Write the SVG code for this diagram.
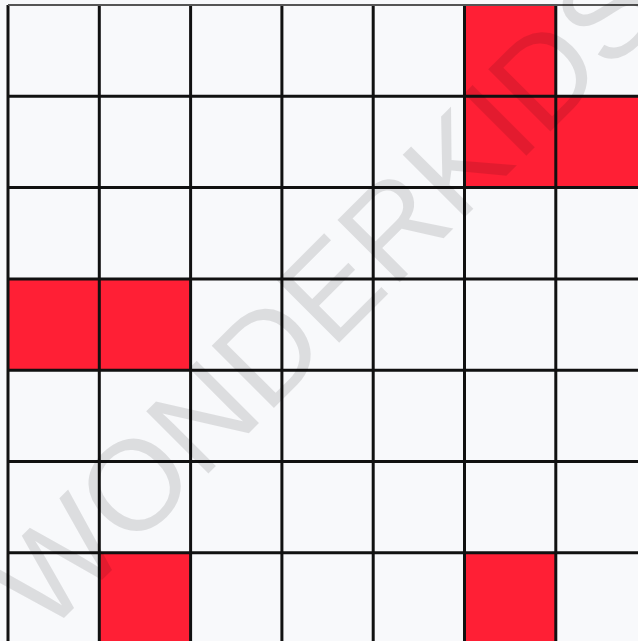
<svg xmlns="http://www.w3.org/2000/svg" width="638" height="641" viewBox="0 0 638 641">
<style>
.bg{fill:#f8f9fb}
.red{fill:#ff1f35}
.ln{stroke:#111;stroke-width:3;fill:none}
.wm{font-family:"Liberation Sans",Arial,sans-serif;font-size:128px;fill:#000;fill-opacity:0.11}
</style>
<rect class="bg" x="0" y="0" width="638" height="641"/>
<g id="cells">
<rect class="red" x="464.5" y="5" width="91.3" height="91.3"/>
<rect class="red" x="464.5" y="96.3" width="91.3" height="91.3"/>
<rect class="red" x="555.8" y="96.3" width="91.3" height="91.3"/>
<rect class="red" x="8" y="278.9" width="91.3" height="91.3"/>
<rect class="red" x="99.3" y="278.9" width="91.3" height="91.3"/>
<rect class="red" x="99.3" y="552.8" width="91.3" height="91.3"/>
<rect class="red" x="464.5" y="552.8" width="91.3" height="91.3"/>
</g>
<g id="grid" class="ln">
<line x1="8" y1="5" x2="8" y2="641"/>
<line x1="99.3" y1="5" x2="99.3" y2="641"/>
<line x1="190.6" y1="5" x2="190.6" y2="641"/>
<line x1="281.9" y1="5" x2="281.9" y2="641"/>
<line x1="373.2" y1="5" x2="373.2" y2="641"/>
<line x1="464.5" y1="5" x2="464.5" y2="641"/>
<line x1="555.8" y1="5" x2="555.8" y2="641"/>
<line x1="8" y1="5" x2="638" y2="5" style="stroke:#555;stroke-width:2"/>
<line x1="8" y1="96.3" x2="638" y2="96.3"/>
<line x1="8" y1="187.6" x2="638" y2="187.6"/>
<line x1="8" y1="278.9" x2="638" y2="278.9"/>
<line x1="8" y1="370.2" x2="638" y2="370.2"/>
<line x1="8" y1="461.5" x2="638" y2="461.5"/>
<line x1="8" y1="552.8" x2="638" y2="552.8"/>
</g>
<text class="wm" x="0" y="0" text-anchor="middle" transform="translate(357,325) rotate(-45)">WONDERKIDS</text>
</svg>
